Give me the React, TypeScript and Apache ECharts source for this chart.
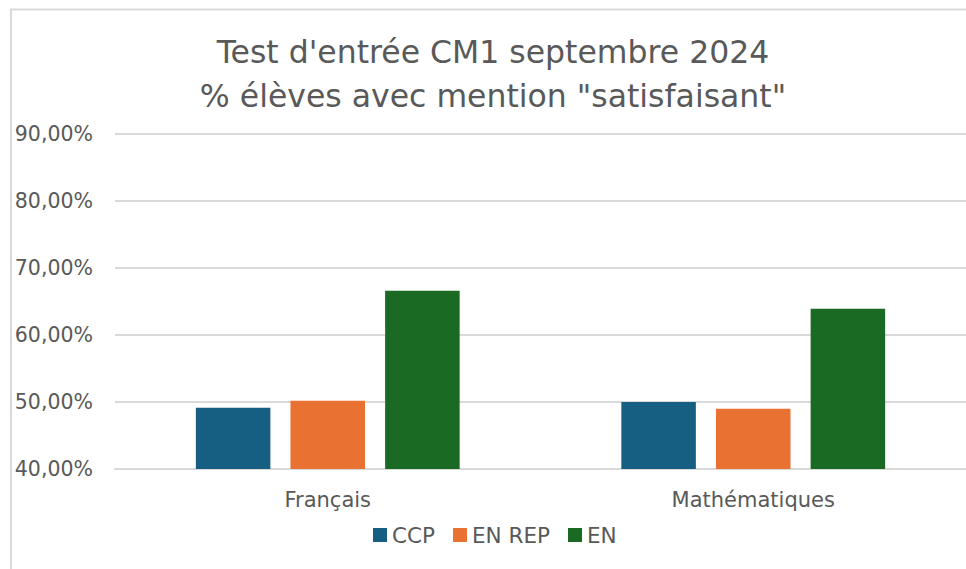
import React, { useEffect, useRef } from "react";
import * as echarts from "echarts";

const categories = ["Français", "Mathématiques"];
const seriesNames = ["CCP", "EN REP", "EN"];
const ccpValues = [49.15, 50.0];
const enRepValues = [50.2, 49.0];
const enValues = [66.6, 63.9];
const colors = ["#175F82", "#E97132", "#1B6A24"];
const titleLines = ["Test d'entrée CM1 septembre 2024", "% élèves avec mention \"satisfaisant\""];

const FONT = "DejaVu Sans";
const GREY = "#595959";

export default function App() {
  const ref = useRef<HTMLDivElement>(null);
  useEffect(() => {
    document.body.style.margin = "0";
    const chart = echarts.init(ref.current!, null, { renderer: "svg" });
    const values = [ccpValues, enRepValues, enValues];
    chart.setOption({
      animation: false,
      backgroundColor: "#ffffff",
      textStyle: { fontFamily: FONT },
      graphic: [
        {
          type: "rect",
          shape: { x: 11, y: 9.5, width: 1000, height: 600 },
          style: { fill: "none", stroke: "#d9d9d9", lineWidth: 2 },
          silent: true,
        },
      ],
      title: {
        text: titleLines.join("\n"),
        left: 488,
        textAlign: "center",
        top: 25,
        textStyle: {
          fontFamily: FONT,
          fontSize: 31.5,
          fontWeight: "normal",
          color: GREY,
          lineHeight: 44,
        },
      },
      legend: {
        data: seriesNames,
        left: 368,
        top: 519,
        itemWidth: 14,
        itemHeight: 14,
        itemGap: 18,
        icon: "rect",
        textStyle: { fontFamily: FONT, fontSize: 21.5, color: GREY },
      },
      grid: { left: 115, right: 0, top: 134, bottom: 100, containLabel: false },
      xAxis: {
        type: "category",
        data: categories,
        axisLine: { show: true, lineStyle: { color: "#d9d9d9", width: 2 } },
        axisTick: { show: false },
        axisLabel: { fontFamily: FONT, fontSize: 21, color: GREY, margin: 20 },
      },
      yAxis: {
        type: "value",
        min: 40,
        max: 90,
        interval: 10,
        axisLine: { show: false },
        axisTick: { show: false },
        splitLine: { lineStyle: { color: "#d9d9d9", width: 2 } },
        axisLabel: {
          fontFamily: FONT,
          fontSize: 20.5,
          color: GREY,
          margin: 22,
          formatter: (v: number) => v.toFixed(2).replace(".", ",") + "%",
        },
      },
      series: seriesNames.map((name, i) => ({
        name,
        type: "bar",
        data: values[i],
        itemStyle: { color: colors[i] },
        barGap: "27%",
        barCategoryGap: "38%",
      })),
    });
    return () => chart.dispose();
  }, []);
  return <div ref={ref} style={{ width: 966, height: 569 }} />;
}
